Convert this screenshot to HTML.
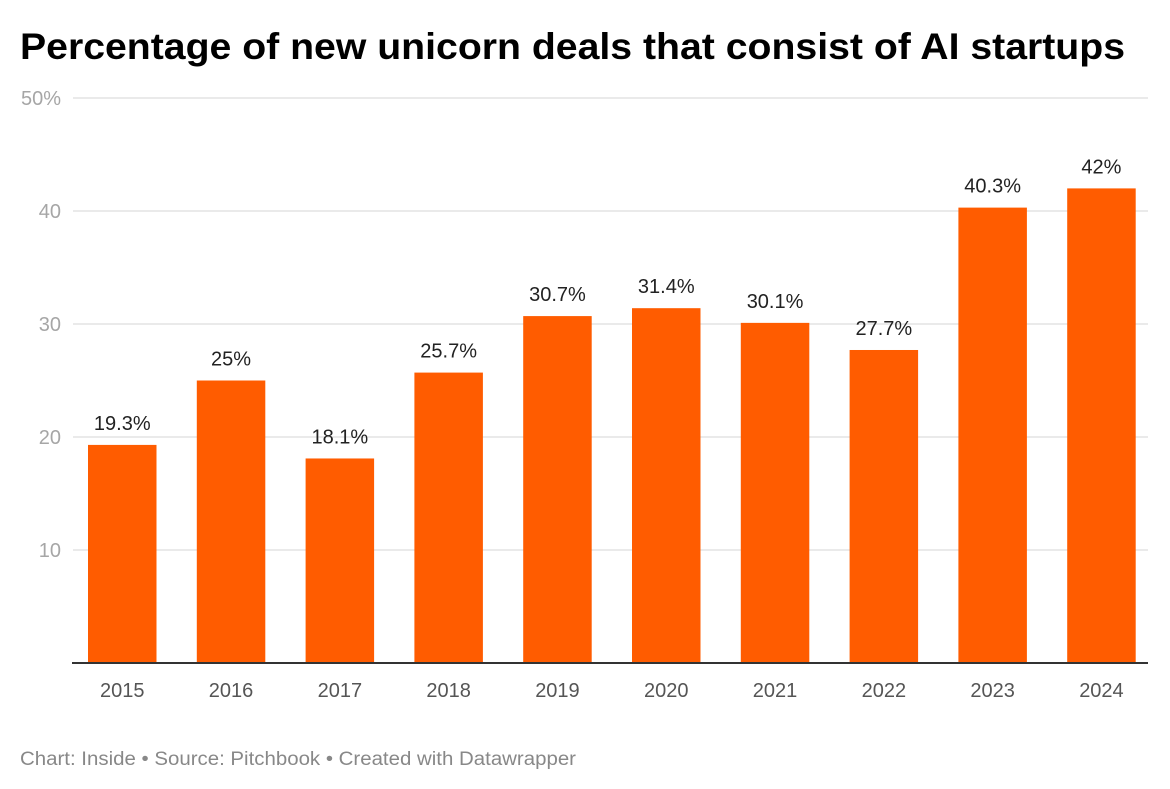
<!DOCTYPE html>
<html><head><meta charset="utf-8"><style>
html,body{margin:0;padding:0;background:#fff;}
svg{display:block;font-family:"Liberation Sans",Arial,sans-serif;}
</style></head><body>
<svg id="chart" width="1170" height="789" viewBox="0 0 1170 789">
<text x="20" y="59" font-size="37" font-weight="bold" fill="#000" textLength="1105" lengthAdjust="spacingAndGlyphs">Percentage of new unicorn deals that consist of AI startups</text>
<g id="grid"></g>
<g id="bars"></g>
<line x1="72" x2="1148" y1="663" y2="663" stroke="#333" stroke-width="2"/>
<text x="20" y="765" font-size="19" fill="#888" textLength="556" lengthAdjust="spacingAndGlyphs">Chart: Inside • Source: Pitchbook • Created with Datawrapper</text>
</svg>
<script>
const categories=["2015","2016","2017","2018","2019","2020","2021","2022","2023","2024"];
const values=[19.3,25,18.1,25.7,30.7,31.4,30.1,27.7,40.3,42];
const valueLabels=["19.3%","25%","18.1%","25.7%","30.7%","31.4%","30.1%","27.7%","40.3%","42%"];
const yTicks=[10,20,30,40,50];
const yTickLabels=["10","20","30","40","50%"];
const NS="http://www.w3.org/2000/svg";
const y0=663,yTop=98,yMax=50;
function yScale(v){return y0-(v/yMax)*(y0-yTop);}
const xStart=88,step=108.8,bw=68.5;
function xScale(i){return xStart+i*step;}
const grid=document.getElementById('grid'),bars=document.getElementById('bars');
function mk(t,a,p){const e=document.createElementNS(NS,t);for(const k in a)e.setAttribute(k,a[k]);p.appendChild(e);return e;}
yTicks.forEach((t,i)=>{
  const y=yScale(t);
  const l=mk('line',{x1:73,x2:1148,y1:y,y2:y,stroke:'#e3e3e3','stroke-width':1.5},grid);
  
  
  const tx=mk('text',{x:61,y:y+7,'text-anchor':'end','font-size':20,fill:'#a6a6a6'},grid);
  tx.textContent=yTickLabels[i];
  
  
});
categories.forEach((c,i)=>{
  const x=xScale(i),y=yScale(values[i]);
  const r=mk('rect',{x:x,y:y,width:bw,height:y0-y,fill:'#ff5c00'},bars);
  
  
  const vl=mk('text',{x:x+bw/2,y:y-15,'text-anchor':'middle','font-size':20,fill:'#222'},bars);
  vl.textContent=valueLabels[i];
  
  
  const xl=mk('text',{x:x+bw/2,y:697,'text-anchor':'middle','font-size':20,fill:'#555'},bars);
  xl.textContent=c;
  
  
});
</script>
</body></html>
